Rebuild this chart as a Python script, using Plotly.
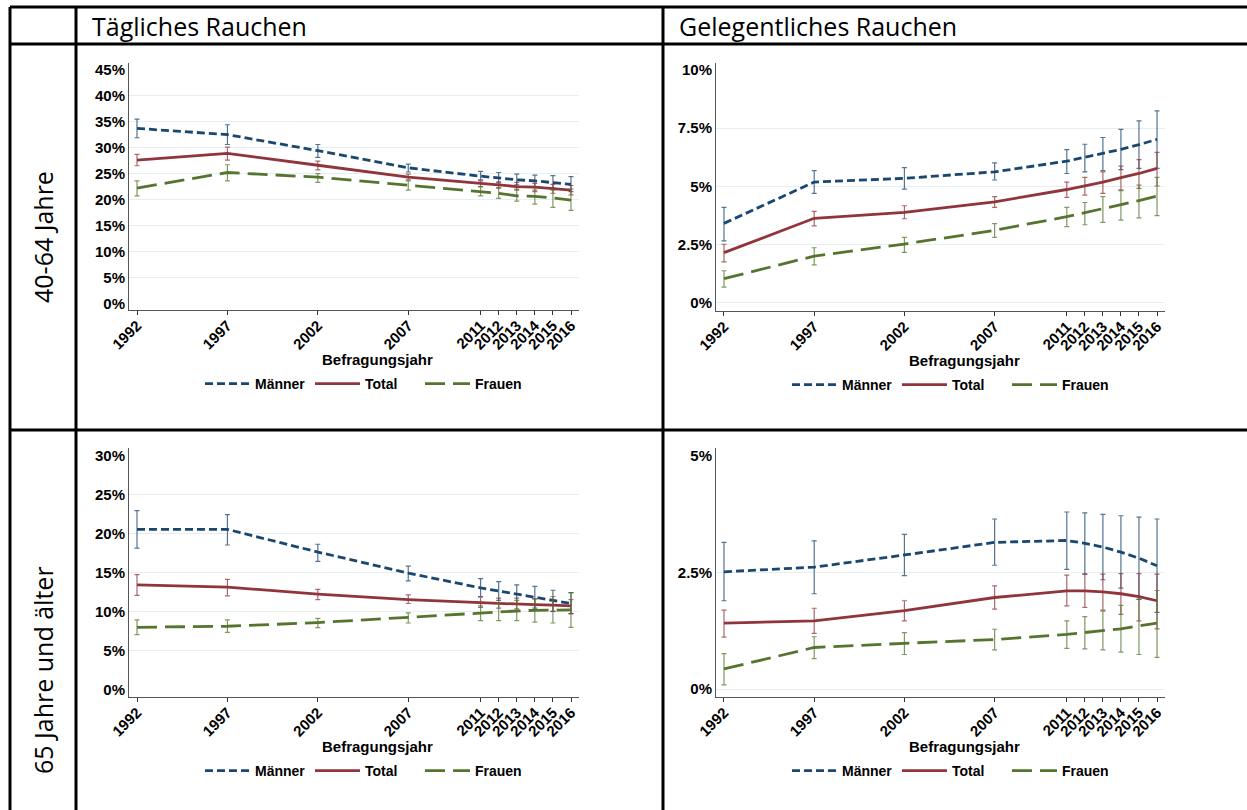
import plotly.graph_objects as go

W, H = 1247, 810

years = [1992, 1997, 2002, 2007, 2011, 2012, 2013, 2014, 2015, 2016]
year_labels = [str(y) for y in years]

series_names = ["Männer", "Total", "Frauen"]

# Panel 1: Tägliches Rauchen, 40-64 Jahre
t40_m = [33.7, 32.5, 29.4, 26.1, 24.5, 24.1, 23.8, 23.6, 23.3, 22.9]
t40_m_lo = [31.9, 30.6, 28.1, 25.3, 23.8, 23.2, 22.8, 22.5, 22.2, 21.5]
t40_m_hi = [35.5, 34.4, 30.6, 26.8, 25.4, 25.2, 24.9, 24.7, 24.6, 24.4]
t40_t = [27.6, 28.9, 26.6, 24.3, 23.1, 22.8, 22.5, 22.4, 22.1, 21.8]
t40_t_lo = [26.5, 27.6, 25.7, 23.8, 22.5, 22.2, 21.8, 21.5, 21.2, 20.9]
t40_t_hi = [28.7, 30.1, 27.4, 24.9, 23.6, 23.4, 23.3, 23.1, 22.9, 22.7]
t40_f = [22.2, 25.2, 24.3, 22.8, 21.6, 21.2, 20.7, 20.6, 20.3, 19.9]
t40_f_lo = [20.7, 23.6, 23.3, 21.8, 20.7, 20.2, 19.7, 19.1, 18.5, 17.9]
t40_f_hi = [23.6, 26.7, 25.0, 23.6, 22.5, 22.3, 22.0, 21.8, 21.8, 22.0]

# Panel 2: Gelegentliches Rauchen, 40-64 Jahre
g40_m = [3.40, 5.18, 5.34, 5.62, 6.08, 6.24, 6.41, 6.59, 6.79, 7.02]
g40_m_lo = [2.65, 4.69, 4.88, 5.27, 5.55, 5.62, 5.67, 5.72, 5.77, 5.77]
g40_m_hi = [4.09, 5.67, 5.80, 6.01, 6.58, 6.81, 7.10, 7.45, 7.82, 8.25]
g40_t = [2.14, 3.62, 3.87, 4.33, 4.86, 5.01, 5.18, 5.37, 5.55, 5.77]
g40_t_lo = [1.74, 3.29, 3.60, 4.09, 4.52, 4.62, 4.69, 4.84, 4.91, 5.01]
g40_t_hi = [2.50, 3.92, 4.16, 4.55, 5.18, 5.38, 5.62, 5.87, 6.15, 6.46]
g40_f = [1.02, 1.99, 2.51, 3.10, 3.69, 3.86, 4.02, 4.22, 4.38, 4.58]
g40_f_lo = [0.65, 1.61, 2.15, 2.80, 3.26, 3.34, 3.44, 3.54, 3.64, 3.73]
g40_f_hi = [1.36, 2.35, 2.80, 3.39, 4.09, 4.30, 4.55, 4.81, 5.05, 5.38]

# Panel 3: Tägliches Rauchen, 65 Jahre und älter
t65_m = [20.5, 20.5, 17.6, 14.9, 13.0, 12.6, 12.2, 11.75, 11.4, 11.0]
t65_m_lo = [18.1, 18.5, 16.4, 13.9, 11.9, 11.4, 10.9, 10.4, 10.0, 9.7]
t65_m_hi = [22.9, 22.4, 18.6, 15.8, 14.2, 13.8, 13.4, 13.2, 12.7, 12.4]
t65_t = [13.4, 13.1, 12.2, 11.5, 11.1, 11.0, 10.9, 10.85, 10.8, 10.7]
t65_t_lo = [12.05, 11.97, 11.5, 11.0, 10.5, 10.4, 10.3, 10.2, 10.0, 9.7]
t65_t_hi = [14.7, 14.1, 12.8, 12.1, 11.8, 11.7, 11.7, 11.6, 11.5, 11.5]
t65_f = [7.95, 8.08, 8.55, 9.23, 9.74, 9.96, 10.04, 10.13, 10.17, 10.17]
t65_f_lo = [7.0, 7.3, 7.9, 8.5, 8.8, 8.8, 8.8, 8.6, 8.5, 7.95]
t65_f_hi = [8.9, 8.9, 9.1, 9.8, 10.7, 11.1, 11.4, 11.6, 11.9, 12.4]

# Panel 4: Gelegentliches Rauchen, 65 Jahre und älter
g65_m = [2.51, 2.61, 2.87, 3.14, 3.18, 3.12, 3.04, 2.93, 2.80, 2.64]
g65_m_lo = [1.89, 2.04, 2.43, 2.65, 2.56, 2.46, 2.34, 2.16, 1.92, 1.64]
g65_m_hi = [3.14, 3.17, 3.31, 3.64, 3.79, 3.77, 3.74, 3.71, 3.68, 3.64]
g65_t = [1.41, 1.46, 1.68, 1.96, 2.10, 2.10, 2.08, 2.04, 1.98, 1.89]
g65_t_lo = [1.11, 1.19, 1.46, 1.71, 1.78, 1.75, 1.69, 1.60, 1.46, 1.29]
g65_t_hi = [1.69, 1.73, 1.89, 2.21, 2.44, 2.46, 2.46, 2.47, 2.47, 2.46]
g65_f = [0.43, 0.89, 0.98, 1.06, 1.17, 1.21, 1.25, 1.29, 1.35, 1.41]
g65_f_lo = [0.09, 0.65, 0.74, 0.84, 0.87, 0.86, 0.84, 0.79, 0.74, 0.68]
g65_f_hi = [0.76, 1.12, 1.21, 1.28, 1.46, 1.55, 1.67, 1.79, 1.92, 2.11]

# y tick values / labels
t40_ticks = [0, 5, 10, 15, 20, 25, 30, 35, 40, 45]
t40_ticklabels = ["0%", "5%", "10%", "15%", "20%", "25%", "30%", "35%", "40%", "45%"]
g40_ticks = [0, 2.5, 5, 7.5, 10]
g40_ticklabels = ["0%", "2.5%", "5%", "7.5%", "10%"]
t65_ticks = [0, 5, 10, 15, 20, 25, 30]
t65_ticklabels = ["0%", "5%", "10%", "15%", "20%", "25%", "30%"]
g65_ticks = [0, 2.5, 5]
g65_ticklabels = ["0%", "2.5%", "5%"]

header_labels = ["Tägliches Rauchen", "Gelegentliches Rauchen"]
row_labels = ["40-64 Jahre", "65 Jahre und älter"]
x_title = "Befragungsjahr"

colors = {"Männer": "#1a476f", "Total": "#90353b", "Frauen": "#55752f"}
err_colors = {"Männer": "rgba(26,71,111,0.75)", "Total": "rgba(144,53,59,0.75)",
              "Frauen": "rgba(85,117,47,0.75)"}
dashes = {"Männer": "8px,4px", "Total": "solid", "Frauen": "20px,8px"}


def px_x(p):
    return p / W


def px_y(p):
    return 1 - p / H


panels = [
    dict(data=[(t40_m, t40_m_lo, t40_m_hi), (t40_t, t40_t_lo, t40_t_hi), (t40_f, t40_f_lo, t40_f_hi)],
         ticks=t40_ticks, labels=t40_ticklabels, grid=t40_ticks[1:-1],
         xpx=(129, 579), ypx=(63, 310), yrange=(-1.29, 46.3)),
    dict(data=[(g40_m, g40_m_lo, g40_m_hi), (g40_t, g40_t_lo, g40_t_hi), (g40_f, g40_f_lo, g40_f_hi)],
         ticks=g40_ticks, labels=g40_ticklabels, grid=g40_ticks[:-1],
         xpx=(716, 1165), ypx=(63, 311), yrange=(-0.375, 10.31)),
    dict(data=[(t65_m, t65_m_lo, t65_m_hi), (t65_t, t65_t_lo, t65_t_hi), (t65_f, t65_f_lo, t65_f_hi)],
         ticks=t65_ticks, labels=t65_ticklabels, grid=t65_ticks[1:-1],
         xpx=(129, 579), ypx=(448, 697), yrange=(-0.99, 30.94)),
    dict(data=[(g65_m, g65_m_lo, g65_m_hi), (g65_t, g65_t_lo, g65_t_hi), (g65_f, g65_f_lo, g65_f_hi)],
         ticks=g65_ticks, labels=g65_ticklabels, grid=g65_ticks[:-1],
         xpx=(716, 1165), ypx=(448, 697), yrange=(-0.17, 5.16)),
]

fig = go.Figure()
tick_font = dict(family="Liberation Sans, Arial, sans-serif", size=15, color="black", weight="bold")
layout_axes = {}
annotations = []
shapes = []

for i, p in enumerate(panels):
    n = "" if i == 0 else str(i + 1)
    xa, ya = "x" + n, "y" + n
    lg = "legend" + n
    for (vals, lo, hi), name in zip(p["data"], series_names):
        fig.add_trace(go.Scatter(
            x=years, y=vals, xaxis=xa, yaxis=ya, name=name, legend=lg,
            mode="lines",
            line=dict(color=colors[name], width=2.8, dash=dashes[name]),
            error_y=dict(type="data", symmetric=False,
                         array=[h - v for h, v in zip(hi, vals)],
                         arrayminus=[v - l for v, l in zip(vals, lo)],
                         color=err_colors[name], thickness=1.2, width=2.5),
            hoverinfo="x+y",
        ))
    x0, x1 = p["xpx"]
    y0, y1 = p["ypx"]
    layout_axes["xaxis" + n] = dict(
        domain=[px_x(x0), px_x(x1)], anchor=ya, automargin=False,
        range=[1992 - 8 / 18.08, 2016 + 8 / 18.08],
        tickmode="array", tickvals=years, ticktext=year_labels, tickangle=-45,
        tickfont=tick_font, ticks="outside", ticklen=4, tickcolor="#333333",
        ticklabelstandoff=-4,
        showline=True, linecolor="#555555", linewidth=1, showgrid=False, zeroline=False,
    )
    layout_axes["yaxis" + n] = dict(
        domain=[px_y(y1), px_y(y0)], anchor=xa, automargin=False,
        range=list(p["yrange"]),
        tickmode="array", tickvals=p["ticks"], ticktext=p["labels"],
        tickfont=tick_font, ticks="", showline=True, linecolor="#555555", linewidth=1,
        showgrid=False, zeroline=False,
        minor=dict(tickmode="array", tickvals=p["grid"], showgrid=True,
                   gridcolor="#e6eeef", gridwidth=1, ticks=""),
    )
    # axis title
    annotations.append(dict(
        text="<b>" + x_title + "</b>", xref="paper", yref="paper",
        x=px_x(x0 + 248), y=px_y(y1 + 49), xanchor="center", yanchor="middle",
        showarrow=False, font=dict(family="Liberation Sans, Arial, sans-serif", size=15, color="black"),
    ))
    layout_axes[lg] = dict(
        orientation="h", x=px_x(x0 + 236), y=px_y(y1 + 74), xanchor="center", yanchor="middle",
        font=dict(family="Liberation Sans, Arial, sans-serif", size=14, color="black", weight="bold"),
        bgcolor="rgba(0,0,0,0)", traceorder="normal", itemwidth=45,
        entrywidth=50, entrywidthmode="pixels",
    )

# table lines
line_style = dict(color="black", width=3)
for xp in (10, 76, 663):
    shapes.append(dict(type="line", xref="paper", yref="paper",
                       x0=px_x(xp), x1=px_x(xp), y0=px_y(7), y1=px_y(830), line=line_style))
for yp in (7, 44, 430):
    shapes.append(dict(type="line", xref="paper", yref="paper",
                       x0=px_x(10), x1=px_x(1260), y0=px_y(yp), y1=px_y(yp), line=line_style))

header_font = dict(family="Open Sans, sans-serif", size=25, color="black")
for lab, xp in zip(header_labels, (90, 677)):
    annotations.append(dict(text=lab, xref="paper", yref="paper", x=px_x(xp), y=px_y(26),
                            xanchor="left", yanchor="middle", showarrow=False, font=header_font))
for lab, yp in zip(row_labels, (237, 670)):
    annotations.append(dict(text=lab, xref="paper", yref="paper", x=px_x(43), y=px_y(yp),
                            xanchor="center", yanchor="middle", textangle=-90,
                            showarrow=False, font=header_font))

fig.update_layout(
    template="none",
    width=W, height=H, margin=dict(l=0, r=0, t=0, b=0, autoexpand=False),
    paper_bgcolor="white", plot_bgcolor="white",
    showlegend=True, annotations=annotations, shapes=shapes,
    **layout_axes,
)

fig.write_html("out.html", post_script="document.body.style.margin='0';",
               config={"displayModeBar": False})
